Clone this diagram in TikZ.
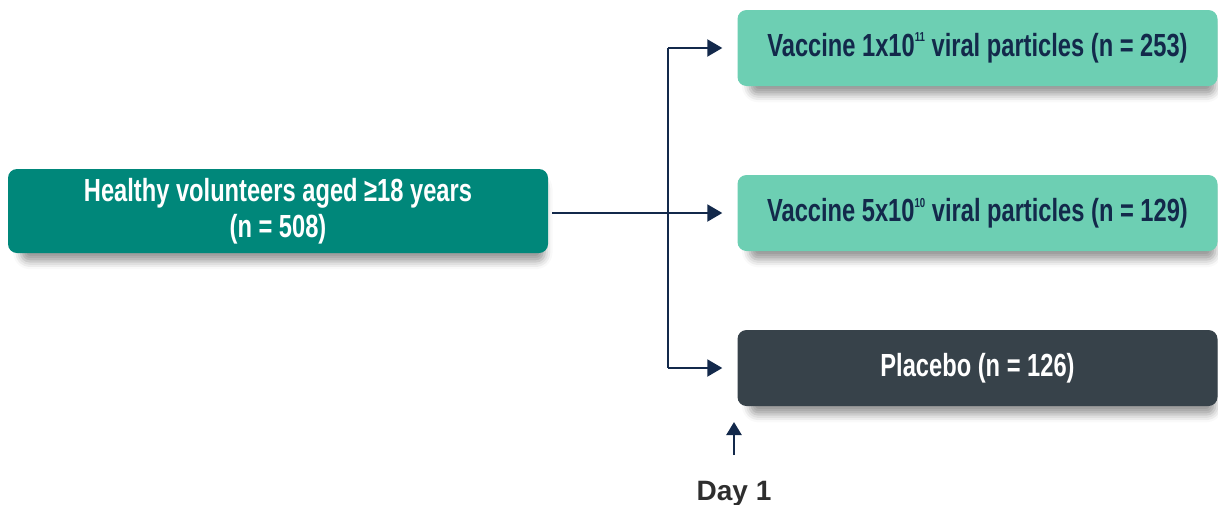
\documentclass[tikz,border=0pt]{standalone}
\usepackage{fontspec}
\setmainfont{Liberation Sans}
\newfontfamily\narrowfont[FakeStretch=0.74]{Liberation Sans}
\usetikzlibrary{positioning, arrows.meta, shadows.blur}
\definecolor{deepteal}{HTML}{00877A}
\definecolor{mintgreen}{HTML}{6DCFB3}
\definecolor{slategrey}{HTML}{37424A}
\definecolor{navyline}{HTML}{13294B}
\definecolor{daygrey}{HTML}{2E2E2E}

\newcommand{\sciexp}[1]{\raisebox{0.85ex}{\fontsize{13}{13}\selectfont #1}}

\tikzset{
  armbox/.style={rounded corners=9pt, minimum width=480pt, minimum height=76pt, inner sep=0pt,
    font=\narrowfont\bfseries\fontsize{32}{36}\selectfont,
    blur shadow={shadow xshift=5pt, shadow yshift=-10pt, shadow opacity=40,
      shadow blur radius=8pt, shadow scale=0.97}},
  link/.style={draw=navyline, line width=2pt},
  linkarrow/.style={link, -{Triangle[length=15pt,width=17pt]}},
}

\begin{document}
\begin{tikzpicture}[x=1pt, y=-1pt]
  \useasboundingbox (0,0) rectangle (1218,504);

  \node[armbox, fill=deepteal, text=white, minimum width=540pt, minimum height=84pt, align=center]
    (start) at (278,211) {Healthy volunteers aged ≥18 years\\(n = 508)};

  \node[armbox, fill=mintgreen, text=navyline] (arm1) at (977.5,48)
    {Vaccine 1x10\sciexp{11} viral particles (n = 253)};
  \node[armbox, fill=mintgreen, text=navyline] (arm2) at (977.5,213)
    {Vaccine 5x10\sciexp{10} viral particles (n = 129)};
  \node[armbox, fill=slategrey, text=white] (arm3) at (977.5,368)
    {Placebo (n = 126)};

  % randomisation branch
  \coordinate (split) at (668,213);
  \draw[linkarrow, shorten <=4pt, shorten >=15pt] (start.east |- split) -- (arm2.west);
  \draw[link] (split |- arm1.west) -- (split |- arm3.west);
  \draw[linkarrow, shorten >=15pt] (split |- arm1.west) -- (arm1.west);
  \draw[linkarrow, shorten >=15pt] (split |- arm3.west) -- (arm3.west);

  % day marker
  \node[font=\bfseries\fontsize{28}{32}\selectfont, text=daygrey, anchor=base] (day) at (734,500) {Day 1};
  \coordinate (dayhead) at (734,422);
  \draw[linkarrow, line width=2.5pt, -{Triangle[length=13pt,width=15pt]}, shorten <=22pt] (day.north) -- (dayhead);
\end{tikzpicture}
\end{document}
